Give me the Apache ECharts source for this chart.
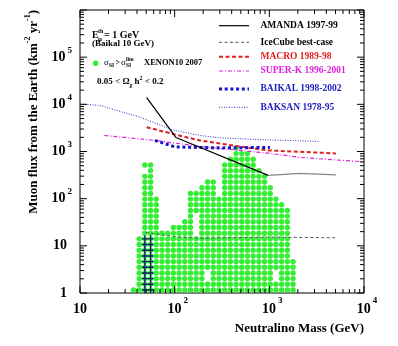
<!DOCTYPE html>
<html>
<head>
<meta charset="utf-8">
<script src="https://cdn.jsdelivr.net/npm/echarts@6/dist/echarts.min.js"></script>
<style>
  html, body { margin: 0; padding: 0; background: #fff; }
  #chart { width: 398px; height: 346px; }
</style>
</head>
<body>
<div id="chart"></div>
<script>
// ---- data ----
// neutralino mass of each column of the scan (GeV)
var colMass = [36.7, 42.2, 48.4, 55.7, 63.9, 73.4, 84.4, 96.9, 111.3, 127.8,
  146.9, 168.7, 193.8, 222.6, 255.7, 293.7, 337.4, 387.6, 445.2, 511.4,
  587.4, 674.8, 775.1, 890.4, 1023, 1175, 1349, 1550, 1780];
// how many dots each column has, counted from the bottom row
var colCount = [1, 10, 23, 23, 17, 11, 11, 12, 12, 13,
  18, 18, 19, 20, 20, 17, 23, 24, 26, 25,
  25, 24, 22, 21, 19, 17, 16, 15, 6];
// flux of each dot row (km^-2 yr^-1)
var rowFlux = [1.16, 1.53, 2.02, 2.66, 3.51, 4.63, 6.11, 8.07, 10.65, 14.06,
  18.55, 24.5, 32.3, 42.7, 56.3, 74.3, 98.0, 129.4, 170.8, 225.4,
  297.5, 392.6, 518.2, 683.9, 902.6, 1191, 1572];
// empty places in the dot field [column, row]
var holes = [[2, 21], [11, 10], [11, 11], [11, 12], [11, 13], [13, 2], [13, 3], [25, 2], [25, 3]];
// columns carrying the blue crosses and how high they go
var crossCols = [2, 3];
var crossCount = 10;

var amanda = [[50.6, 13900], [103, 1986], [973, 312]];
var amandaExt = [[973, 312], [2104, 344], [5047, 320]];
var icecube = [[49.4, 19.2], [100.7, 15.6], [185, 14.5], [966, 15.3], [4930, 14.8]];
var macro = [[50.6, 3281], [100.7, 2297], [185, 1717], [443, 1313], [966, 1055], [5047, 912]];
var superk = [[18.1, 2190], [61.9, 1717], [185, 1282], [1014, 912], [2104, 750], [9980, 603]];
var baikal = [[61.9, 1717], [100.7, 1250], [301, 1191], [1014, 1221]];
var baksan = [[10, 10250], [16.3, 9440], [43.1, 5335], [93.5, 2891], [185, 2190], [301, 1938], [1014, 1758], [3420, 1636]];

var xMajor = [10, 100, 1000, 10000];
var xMinor = [20, 30, 40, 50, 60, 70, 80, 90, 200, 300, 400, 500, 600, 700, 800, 900,
  2000, 3000, 4000, 5000, 6000, 7000, 8000, 9000];
var yMajor = [1, 10, 100, 1e3, 1e4, 1e5, 1e6];
var yMinorSteps = [2, 3, 4, 5, 6, 7, 8, 9];

// ---- build ----
var FONT = 'Liberation Serif';
var GREEN = '#33ee33';
var dom = document.getElementById('chart');
var chart = echarts.init(dom);

// line styles, also used for the hand drawn legend
var styles = {
  amanda: { name: 'AMANDA 1997-99', color: '#000', text: '#000', width: 1.2, dash: 'solid' },
  icecube: { name: 'IceCube best-case', color: '#555', text: '#000', width: 1, dash: [3, 2.5] },
  macro: { name: 'MACRO 1989-98', color: '#e02020', text: '#e02020', width: 2, dash: [4, 2.5] },
  superk: { name: 'SUPER-K 1996-2001', color: '#e020e0', text: '#e020e0', width: 1.2, dash: [4, 2, 1, 2] },
  baikal: { name: 'BAIKAL 1998-2002', color: '#1414c8', text: '#2020c0', width: 3, dash: [3, 2.7] },
  baksan: { name: 'BAKSAN 1978-95', color: '#3030c8', text: '#2020c0', width: 1, dash: [1, 1.5] }
};
var legendOrder = ['amanda', 'icecube', 'macro', 'superk', 'baikal', 'baksan'];
var legendY = [25.7, 42.3, 56.7, 71, 89, 107.3];

function isHole(c, r) {
  for (var i = 0; i < holes.length; i++) {
    if (holes[i][0] === c && holes[i][1] === r) return true;
  }
  return false;
}

var dots = [];
colMass.forEach(function (m, c) {
  for (var r = 0; r < colCount[c]; r++) {
    if (!isHole(c, r)) dots.push([m, rowFlux[r]]);
  }
});
var crosses = [];
crossCols.forEach(function (c) {
  for (var r = 0; r < crossCount; r++) crosses.push([colMass[c], rowFlux[r]]);
});

// tick marks on all four sides: [side, value, major]
var ticks = [];
xMajor.forEach(function (v) { ticks.push([0, v, 1], [1, v, 1]); });
xMinor.forEach(function (v) { ticks.push([0, v, 0], [1, v, 0]); });
yMajor.forEach(function (v, i) {
  ticks.push([2, v, 1], [3, v, 1]);
  if (i < yMajor.length - 1) {
    yMinorSteps.forEach(function (s) { ticks.push([2, v * s, 0], [3, v * s, 0]); });
  }
});

function expOf(v) { return Math.round(Math.log(v) / Math.LN10); }

function lineSeries(key, data, overrideColor) {
  var s = styles[key];
  var c = overrideColor || s.color;
  return {
    name: s.name, type: 'line', data: data, symbol: 'none', z: 4,
    lineStyle: { color: c, width: s.width, type: s.dash },
    itemStyle: { color: c },
    emphasis: { disabled: true }, animation: false
  };
}

function txt(x, y, text, size, bold, extra) {
  var st = {
    text: text, verticalAlign: 'middle', textVerticalAlign: 'middle',
    fontFamily: FONT, fontWeight: bold ? 'bold' : 'normal', fontSize: size, fill: '#000'
  };
  for (var k in extra || {}) st[k] = extra[k];
  return { type: 'text', x: x, y: y, style: st };
}

var graphics = [
  txt(364, 329, 'Neutralino Mass (GeV)', 13, true, { align: 'right', textAlign: 'right' }),
  { type: 'text', x: 32, y: 10, rotation: Math.PI / 2,
    style: { text: '{a|Muon flux from the Earth (km}{s|-2}{a| yr}{s|-1}{a|)}', align: 'right', textAlign: 'right', verticalAlign: 'middle', textVerticalAlign: 'middle',
      rich: {
        a: { fontFamily: FONT, fontWeight: 'bold', fontSize: 13, fill: '#000', padding: [4, 0, 0, 0] },
        s: { fontFamily: FONT, fontWeight: 'bold', fontSize: 8, fill: '#000', verticalAlign: 'top' }
      } } },
  // annotation block
  txt(92, 35, 'E', 10, true),
  txt(98, 31, 'th', 6, true),
  txt(98, 39, 'μ', 7, true),
  txt(104, 35, '= 1 GeV', 10, true),
  txt(92, 44, '(Baikal 10 GeV)', 9, true),
  { type: 'circle', shape: { cx: 95.7, cy: 63.3, r: 2.7 }, style: { fill: GREEN } },
  txt(104, 63, 'σ', 9, false),
  txt(109, 65.5, 'SI', 5.5, true),
  txt(115.5, 63, '>', 8, true),
  txt(121, 63, 'σ', 9, false),
  txt(126, 65.5, 'SI', 5.5, true),
  txt(126, 59.5, 'lim', 5.5, true),
  txt(144, 63, 'XENON10 2007', 8.5, true),
  { type: 'text', x: 97, y: 82, style: { text: '{a|0.05 < Ω}{b|χ}{a| h}{c|2}{a| < 0.2}', verticalAlign: 'middle', textVerticalAlign: 'middle',
      rich: {
        a: { fontFamily: FONT, fontWeight: 'bold', fontSize: 9, fill: '#000', padding: [2, 0, 2, 0] },
        b: { fontFamily: FONT, fontWeight: 'bold', fontSize: 6, fill: '#000', verticalAlign: 'bottom' },
        c: { fontFamily: FONT, fontWeight: 'bold', fontSize: 6, fill: '#000', verticalAlign: 'top' }
      } } }
];

// legend: line samples and coloured names
legendOrder.forEach(function (key, i) {
  var s = styles[key];
  var y = legendY[i];
  graphics.push({
    type: 'line', shape: { x1: 219, y1: y, x2: 249, y2: y },
    style: { stroke: s.color, lineWidth: s.width, lineDash: s.dash === 'solid' ? null : s.dash }
  });
  graphics.push(txt(260.5, y, s.name, 9.5, true, { fill: s.text }));
});

var option = {
  animation: false,
  grid: {
    left: 80, top: 10, right: 34, bottom: 53,
    show: true, borderColor: '#000', borderWidth: 1, backgroundColor: 'transparent',
    outerBoundsMode: 'none'
  },
  xAxis: {
    type: 'log', logBase: 10, min: 10, max: 10000, splitNumber: 3,
    axisLine: { show: false }, axisTick: { show: false }, splitLine: { show: false },
    axisLabel: {
      margin: 3,
      formatter: function (v) {
        var e = expOf(v);
        return e === 1 ? '{m|10}' : '{n|10}{s|' + e + '}';
      },
      rich: {
        m: { fontFamily: FONT, fontWeight: 'bold', fontSize: 14, color: '#000', padding: [6, 0, 0, 0] },
        n: { fontFamily: FONT, fontWeight: 'bold', fontSize: 14, color: '#000', padding: [6, 0, 0, 6] },
        s: { fontFamily: FONT, fontWeight: 'bold', fontSize: 9, color: '#000', verticalAlign: 'top', padding: [0, 0, 0, 2] }
      }
    }
  },
  yAxis: {
    type: 'log', logBase: 10, min: 1, max: 1e6, splitNumber: 6,
    axisLine: { show: false }, axisTick: { show: false }, splitLine: { show: false },
    axisLabel: {
      margin: 8,
      formatter: function (v) {
        var e = expOf(v);
        if (e === 0) return '{m|1}';
        if (e === 1) return '{m|10}';
        if (e >= 6) return '';
        return '{n|10}{s|' + e + '}';
      },
      rich: {
        m: { fontFamily: FONT, fontWeight: 'bold', fontSize: 14, color: '#000', padding: [4, 5, 4, 0] },
        n: { fontFamily: FONT, fontWeight: 'bold', fontSize: 14, color: '#000', padding: [4, 0, 4, 0] },
        s: { fontFamily: FONT, fontWeight: 'bold', fontSize: 9, color: '#000', verticalAlign: 'top', padding: [0, 0, 0, 2] }
      }
    }
  },
  graphic: graphics,
  series: [
    {
      name: 'XENON10', type: 'scatter', data: dots, symbol: 'circle', symbolSize: 5.4, z: 2,
      itemStyle: { color: GREEN, opacity: 1 }, emphasis: { disabled: true }, animation: false
    },
    {
      name: 'cross', type: 'scatter', data: crosses, z: 3, symbolSize: [6, 7],
      symbol: 'path://M-0.2,-1 H0.2 V-0.2 H1 V0.2 H0.2 V1 H-0.2 V0.2 H-1 V-0.2 H-0.2 Z',
      itemStyle: { color: '#101c6c', opacity: 1 }, emphasis: { disabled: true }, animation: false
    },
    lineSeries('icecube', icecube),
    lineSeries('superk', superk),
    lineSeries('baksan', baksan),
    lineSeries('macro', macro),
    lineSeries('baikal', baikal),
    lineSeries('amanda', amanda),
    lineSeries('amanda', amandaExt, '#888'),
    {
      name: 'ticks', type: 'custom', z: 6, silent: true, clip: false,
      dimensions: ['side', 'v', 'major'],
      encode: { x: 'v', y: 'v' },
      data: ticks,
      renderItem: function (params, api) {
        var side = api.value(0), v = api.value(1);
        var len = api.value(2) ? 7 : 4;
        var p, q;
        if (side === 0) { p = api.coord([v, 1]); q = [p[0], p[1] - len]; }
        else if (side === 1) { p = api.coord([v, 1e6]); q = [p[0], p[1] + len]; }
        else if (side === 2) { p = api.coord([10, v]); q = [p[0] + len, p[1]]; }
        else { p = api.coord([10000, v]); q = [p[0] - len, p[1]]; }
        return {
          type: 'line',
          shape: { x1: p[0], y1: p[1], x2: q[0], y2: q[1] },
          style: { stroke: '#000', lineWidth: 1 }
        };
      },
      animation: false
    }
  ]
};

chart.clear();
chart.resize();
chart.setOption(option);
</script>
</body>
</html>
